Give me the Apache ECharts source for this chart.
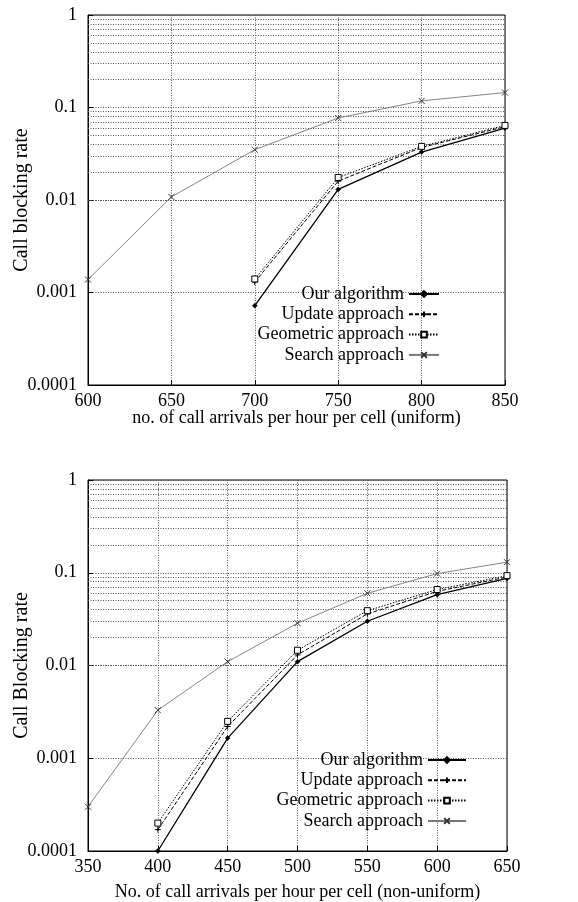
<!DOCTYPE html>
<html><head><meta charset="utf-8">
<script src="https://cdn.jsdelivr.net/npm/echarts@6/dist/echarts.min.js"></script>
<style>html,body{margin:0;padding:0;background:#fff}#c{width:578px;height:902px}</style>
</head><body><div id="c"></div>
<script>
const seriesNames = ['Our algorithm','Update approach','Geometric approach','Search approach'];
const topX = [600,650,700,750,800,850];
const topOur = [null,null,0.00072,0.013,0.033,0.06];
const topUpdate = [null,null,0.0013,0.016,0.037,0.062];
const topGeo = [null,null,0.0014,0.0175,0.038,0.064];
const topSearch = [0.00138,0.0108,0.035,0.077,0.118,0.145];
const botX = [350,400,450,500,550,600,650];
const botOur = [null,0.0001,0.00165,0.011,0.03,0.058,0.087];
const botUpdate = [null,0.00017,0.0022,0.013,0.036,0.063,0.09];
const botGeo = [null,0.0002,0.0025,0.0146,0.039,0.066,0.093];
const botSearch = [0.0003,0.0033,0.011,0.0286,0.06,0.098,0.13];
const yTickLabels = ['0.0001','0.001','0.01','0.1','1'];
const topXTitle = 'no. of call arrivals per hour per cell (uniform)';
const botXTitle = 'No. of call arrivals per hour per cell (non-uniform)';
const topYTitle = 'Call blocking rate';
const botYTitle = 'Call Blocking rate';

const FONT = 'Liberation Serif';
const GRIDC = '#555';
const minorVals = [];
for (let d = -4; d < 0; d++) for (let m = 2; m <= 9; m++) minorVals.push(+(m * Math.pow(10, d)).toPrecision(2));

const styles = [
  {symbol:'diamond', symbolSize:5, itemStyle:{color:'#000',borderColor:'#000',borderWidth:0.5}, lineStyle:{color:'#000',width:1.3,type:'solid'}},
  {symbol:'path://M0,5L10,5M5,0L5,10', symbolSize:6, itemStyle:{color:'transparent',borderColor:'#000',borderWidth:1}, lineStyle:{color:'#000',width:1,type:[4,2]}},
  {symbol:'rect', symbolSize:6, itemStyle:{color:'#fff',borderColor:'#000',borderWidth:1}, lineStyle:{color:'#000',width:1,type:[1.5,1.5]}},
  {symbol:'path://M0,0L10,10M10,0L0,10', symbolSize:6, itemStyle:{color:'transparent',borderColor:'#333',borderWidth:1}, lineStyle:{color:'#777',width:0.9,type:'solid'}}
];

function pairs(xs, ys){ return xs.map((x,i)=> ys[i]==null ? null : [x, ys[i]]).filter(p=>p); }

function mkSeries(gi, xs, arrs){
  return arrs.map((ys, k) => {
    const s = Object.assign({
      type:'line', name: seriesNames[k], xAxisIndex: gi, yAxisIndex: gi,
      data: pairs(xs, ys), showAllSymbol: true, animation:false, z: 5
    }, styles[k]);
    if (k === 0) {
      s.markLine = {silent:true, symbol:'none', label:{show:false}, animation:false,
        lineStyle:{color:GRIDC, type:[1,1.5], width:1},
        data: minorVals.map(v => ({yAxis: v}))};
    }
    return s;
  });
}

function yAxis(gi, title){
  return {type:'log', logBase:10, min:0.0001, max:1, gridIndex: gi,
    name: title, nameLocation:'middle', nameGap:56, nameMoveOverlap:false,
    nameTextStyle:{fontFamily:FONT, fontSize:20, color:'#000'},
    axisLine:{show:true, lineStyle:{color:'#000', width:1}},
    axisTick:{show:true, inside:true, length:5, lineStyle:{color:'#000'}},
    axisLabel:{fontFamily:FONT, fontSize:18, color:'#000', margin:11,
      formatter: v => { const e = Math.round(Math.log10(v)); return yTickLabels[e+4]; }},
    splitLine:{show:true, lineStyle:{color:GRIDC, type:[1,1.5], width:1}}
  };
}
function xAxis(gi, min, max, title, gap){
  return {type:'value', min, max, interval:50, gridIndex: gi,
    name: title, nameLocation:'middle', nameGap:gap, nameMoveOverlap:false,
    nameTextStyle:{fontFamily:FONT, fontSize:18, color:'#000'},
    axisLine:{show:true, onZero:false, lineStyle:{color:'#000', width:1}},
    axisTick:{show:true, inside:true, length:5, lineStyle:{color:'#000'}},
    axisLabel:{fontFamily:FONT, fontSize:18, color:'#000', margin:7},
    splitLine:{show:true, lineStyle:{color:GRIDC, type:[1,1.5], width:1}}
  };
}
function legend(top, right, w){
  return {orient:'vertical', align:'right', top, right, itemWidth:w, itemHeight:7, itemGap:2.3,
    data: seriesNames, selectedMode:false, padding:0,
    textStyle:{fontFamily:FONT, fontSize:18, lineHeight:18, color:'#000'},
    backgroundColor:'transparent'};
}

const chart = echarts.init(document.getElementById('c'), null, {renderer:'canvas'});
chart.setOption({
  backgroundColor:'#fff',
  animation:false,
  grid:[
    {left:88, top:15, width:417, height:370, show:true, borderColor:'#000', borderWidth:1, containLabel:false, outerBoundsMode:'none'},
    {left:88, top:480, width:419, height:371, show:true, borderColor:'#000', borderWidth:1, containLabel:false, outerBoundsMode:'none'}
  ],
  xAxis:[xAxis(0,600,850,topXTitle,24), xAxis(1,350,650,botXTitle,32)],
  yAxis:[yAxis(0,topYTitle), yAxis(1,botYTitle)],
  legend:[legend(285,138,30), legend(751,111,38)],
  series:[].concat(mkSeries(0, topX, [topOur, topUpdate, topGeo, topSearch]),
                   mkSeries(1, botX, [botOur, botUpdate, botGeo, botSearch]))
});
</script></body></html>
